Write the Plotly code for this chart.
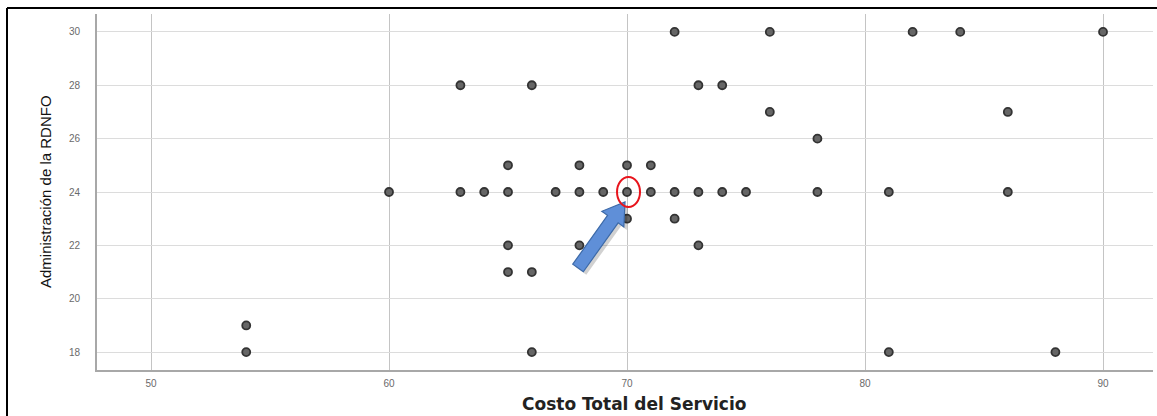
import numpy as np
import plotly.graph_objects as go

# Costo Total del Servicio (eje X) y Administración de la RDNFO (eje Y)
costo = [72, 76, 82, 84, 90,
         63, 66, 73, 74,
         76, 86,
         78,
         65, 68, 70, 71,
         60, 63, 64, 65, 67, 68, 69, 70, 71, 72, 73, 74, 75, 78, 81, 86,
         70, 72,
         65, 68, 73,
         65, 66,
         54,
         54, 66, 81, 88]
admin = [30, 30, 30, 30, 30,
         28, 28, 28, 28,
         27, 27,
         26,
         25, 25, 25, 25,
         24, 24, 24, 24, 24, 24, 24, 24, 24, 24, 24, 24, 24, 24, 24, 24,
         23, 23,
         22, 22, 22,
         21, 21,
         19,
         18, 18, 18, 18]

# Punto destacado
resaltado_x = 70
resaltado_y = 24

x_ticks = [50, 60, 70, 80, 90]
y_ticks = [18, 20, 22, 24, 26, 28, 30]

W, H = 1157, 416
ML, MR, MT, MB = 97, 4, 14, 46
x_range = [47.73, 92.1]
y_range = [17.33, 30.67]
pw, ph = W - ML - MR, H - MT - MB
ppx = pw / (x_range[1] - x_range[0])   # pixels per x unit
ppy = ph / (y_range[1] - y_range[0])   # pixels per y unit


def px_to_paper(px, py):
    return (px - ML) / pw, (H - MB - py) / ph


def offset_to_data(ox, oy):
    # pixel offsets (right, down) from the highlighted point -> data coords
    return resaltado_x + ox / ppx, resaltado_y - oy / ppy


fig = go.Figure()
fig.add_trace(go.Scatter(
    x=costo, y=admin, mode="markers",
    marker=dict(symbol="circle", size=8, color="#666666",
                line=dict(color="#333333", width=1.8)),
    showlegend=False, hoverinfo="x+y",
))

shapes = []

# Block arrow pointing at the highlighted point
tail = np.array([-49.0, 76.0])
tip = np.array([-2.0, 10.0])
d = tip - tail
L = np.linalg.norm(d)
u = d / L
n = np.array([u[1], -u[0]]) * -1
shaft_hw, head_hw, head_len = 6.5, 13.5, 21.0
base = tip - u * head_len
pts = [tail + n * shaft_hw, base + n * shaft_hw, base + n * head_hw, tip,
       base - n * head_hw, base - n * shaft_hw, tail - n * shaft_hw]


def arrow_path(points, shift=(0.0, 0.0)):
    segs = []
    for i, p in enumerate(points):
        xd, yd = offset_to_data(p[0] + shift[0], p[1] + shift[1])
        segs.append(("M" if i == 0 else "L") + f"{xd:.4f},{yd:.4f}")
    return " ".join(segs) + " Z"


shapes.append(dict(type="path", xref="x", yref="y", path=arrow_path(pts, (3, 3)),
                   fillcolor="rgba(0,0,0,0.18)", line=dict(width=0), layer="above"))
shapes.append(dict(type="path", xref="x", yref="y", path=arrow_path(pts),
                   fillcolor="#5f8fd8", line=dict(color="#3d6aa8", width=1.2),
                   layer="above"))

# Red ellipse around the highlighted point
ex0, ey0 = offset_to_data(-10, -15)
ex1, ey1 = offset_to_data(13, 15)
shapes.append(dict(type="circle", xref="x", yref="y", x0=ex0, x1=ex1, y0=ey1, y1=ey0,
                   line=dict(color="#e8141c", width=2), fillcolor="rgba(0,0,0,0)",
                   layer="above"))

# Outer frame (top and left edges visible)
bx0, by_top = px_to_paper(7, 8)
bx1, by_bot = px_to_paper(W + 5, H + 5)
shapes.append(dict(type="line", xref="paper", yref="paper", x0=bx0, x1=bx1,
                   y0=by_top, y1=by_top, line=dict(color="black", width=2)))
shapes.append(dict(type="line", xref="paper", yref="paper", x0=bx0, x1=bx0,
                   y0=by_top, y1=by_bot, line=dict(color="black", width=2)))

tick_font = dict(family="Liberation Sans, Arial, sans-serif", size=10, color="#6a6a6a")

fig.update_layout(
    width=W, height=H,
    margin=dict(l=ML, r=MR, t=MT, b=MB, pad=0),
    paper_bgcolor="white", plot_bgcolor="white",
    shapes=shapes,
    xaxis=dict(range=x_range, tickvals=x_ticks, ticktext=[str(v) for v in x_ticks],
               showgrid=True, gridcolor="#c4c4c4", gridwidth=1.4,
               showline=True, linecolor="#a8a8a8", linewidth=1.5,
               zeroline=False, ticks="", tickfont=tick_font, ticklabelstandoff=3),
    yaxis=dict(range=y_range, tickvals=y_ticks, ticktext=[str(v) for v in y_ticks],
               showgrid=True, gridcolor="#dcdcdc", gridwidth=1.4,
               showline=True, linecolor="#a8a8a8", linewidth=2,
               zeroline=False, ticks="", tickfont=tick_font, ticklabelstandoff=13),
    annotations=[
        dict(text="Administración de la RDNFO", xref="paper", yref="paper",
             x=px_to_paper(45, 0)[0], y=0.5, xanchor="center", yanchor="middle",
             textangle=-90, showarrow=False,
             font=dict(family="Liberation Sans Narrow, Arial Narrow, sans-serif",
                       size=15, color="#111111")),
        dict(text="<b>Costo Total del Servicio</b>", xref="paper", yref="paper",
             x=px_to_paper(634, 0)[0], y=px_to_paper(0, 404)[1],
             xanchor="center", yanchor="middle", showarrow=False,
             font=dict(family="DejaVu Sans, sans-serif", size=17, color="#222222")),
    ],
)

fig.write_html("out.html")
